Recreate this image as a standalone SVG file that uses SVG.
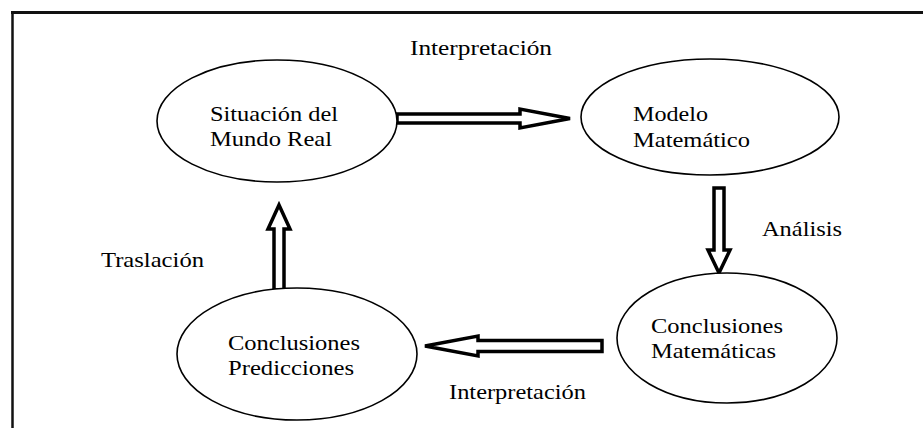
<svg xmlns="http://www.w3.org/2000/svg" width="923" height="431" viewBox="0 0 923 431">
<style>
.node ellipse{fill:#fff;stroke:#000;stroke-width:1.6}
text{font-family:"Liberation Serif","Times New Roman",serif;font-size:21px;fill:#000}
.arr{fill:#fff;stroke:#000;stroke-width:3.5;stroke-linejoin:miter}
</style>
<rect width="923" height="431" fill="#fff"/>
<g id="frame" fill="none" stroke="#111">
<line x1="11" y1="12.5" x2="923" y2="12.5" stroke-width="3"/>
<line x1="12.5" y1="11" x2="12.5" y2="428" stroke-width="2.5"/>
</g>
<g id="connectors">
<polygon class="arr" points="397,114 520,114 520,109 570,118.5 520,128 520,123 397,123"/>
<polygon class="arr" points="714,188 724,188 724,250 730,250 719,273 708,250 714,250"/>
<polygon class="arr" points="602,340.5 478,340.5 478,336 425,346 478,356 478,351.5 602,351.5"/>
<polygon class="arr" points="274,290 284,290 284,229 290,229 279,205 268,229 274,229"/>
</g>
<g id="labels">
<text x="410" y="55" textLength="142" lengthAdjust="spacingAndGlyphs">Interpretación</text>
<text x="762" y="236" textLength="80" lengthAdjust="spacingAndGlyphs">Análisis</text>
<text x="101" y="267" textLength="103" lengthAdjust="spacingAndGlyphs">Traslación</text>
<text x="449" y="399" textLength="137" lengthAdjust="spacingAndGlyphs">Interpretación</text>
</g>
<g id="n1" class="node">
<ellipse cx="277" cy="121" rx="120" ry="61"/>
<text x="210" y="121" textLength="128" lengthAdjust="spacingAndGlyphs">Situación del</text>
<text x="210" y="146" textLength="122" lengthAdjust="spacingAndGlyphs">Mundo Real</text>
</g>
<g id="n2" class="node">
<ellipse cx="710" cy="117" rx="129" ry="58"/>
<text x="633" y="121" textLength="75" lengthAdjust="spacingAndGlyphs">Modelo</text>
<text x="633" y="147" textLength="117" lengthAdjust="spacingAndGlyphs">Matemático</text>
</g>
<g id="n3" class="node">
<ellipse cx="727" cy="338" rx="110" ry="65"/>
<text x="651" y="333" textLength="132" lengthAdjust="spacingAndGlyphs">Conclusiones</text>
<text x="651" y="358" textLength="125" lengthAdjust="spacingAndGlyphs">Matemáticas</text>
</g>
<g id="n4" class="node">
<ellipse cx="297" cy="354" rx="120" ry="66"/>
<text x="228" y="350" textLength="132" lengthAdjust="spacingAndGlyphs">Conclusiones</text>
<text x="228" y="375" textLength="126" lengthAdjust="spacingAndGlyphs">Predicciones</text>
</g>
</svg>
